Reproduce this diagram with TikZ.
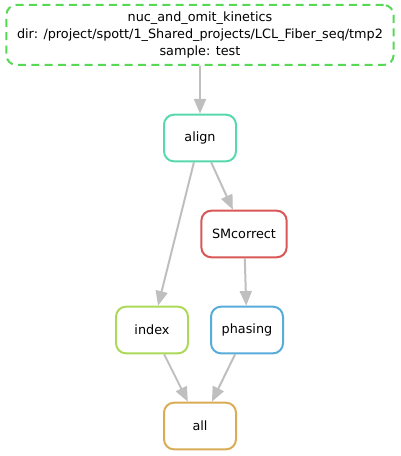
\documentclass[tikz,border=0pt]{standalone}
\usepackage{fontspec}
\setmainfont{DejaVu Sans}
\usetikzlibrary{arrows.meta,positioning}

\definecolor{rulegreen}{HTML}{57D957}
\definecolor{ruleteal}{HTML}{57D9AC}
\definecolor{rulered}{HTML}{D95757}
\definecolor{rulelime}{HTML}{ACD957}
\definecolor{ruleblue}{HTML}{57ACD9}
\definecolor{ruleorange}{HTML}{D9AC57}

\begin{document}
\begin{tikzpicture}[on grid,
    every node/.style={font=\fontsize{9.6}{12.4}\selectfont},
    every path/.style={line width=1.5pt}]
  \tikzstyle{ruleN}=[rectangle,rounded corners=7.5pt,line width=1.5pt,fill=white,
    minimum width=54pt,minimum height=35pt,inner xsep=8pt]
  \tikzstyle{dep}=[draw=gray!50,-{Triangle[length=11pt,width=9pt]}]

  \useasboundingbox (-150pt,26.25pt) rectangle (150pt,-315.75pt);

  \node[ruleN,draw=rulegreen,dashed,dash pattern=on 6pt off 4pt,
    minimum width=289.5pt,minimum height=45pt,align=center] (kinetics)
    {nuc\_and\_omit\_kinetics\\dir: /project/spott/1\_Shared\_projects/LCL\_Fiber\_seq/tmp2\\sample: test};
  \node[ruleN,draw=ruleteal]   (align)     [below=77.25pt of kinetics] {align};
  \node[ruleN,draw=rulered]    (smcorrect) [below right=72pt and 33pt of align] {SMcorrect};
  \node[ruleN,draw=rulelime]   (index)     [below left=144pt and 36pt of align] {index};
  \node[ruleN,draw=ruleblue]   (phasing)   [below right=144pt and 35.25pt of align] {phasing};
  \node[ruleN,draw=ruleorange] (all)       [below=216pt of align] {all};

  \draw[dep] (kinetics) -- (align);
  \draw[dep] (align) -- (index);
  \draw[dep] (align) -- (smcorrect);
  \draw[dep] (smcorrect) -- (phasing);
  \draw[dep] (index) -- (all);
  \draw[dep] (phasing) -- (all);
\end{tikzpicture}
\end{document}
